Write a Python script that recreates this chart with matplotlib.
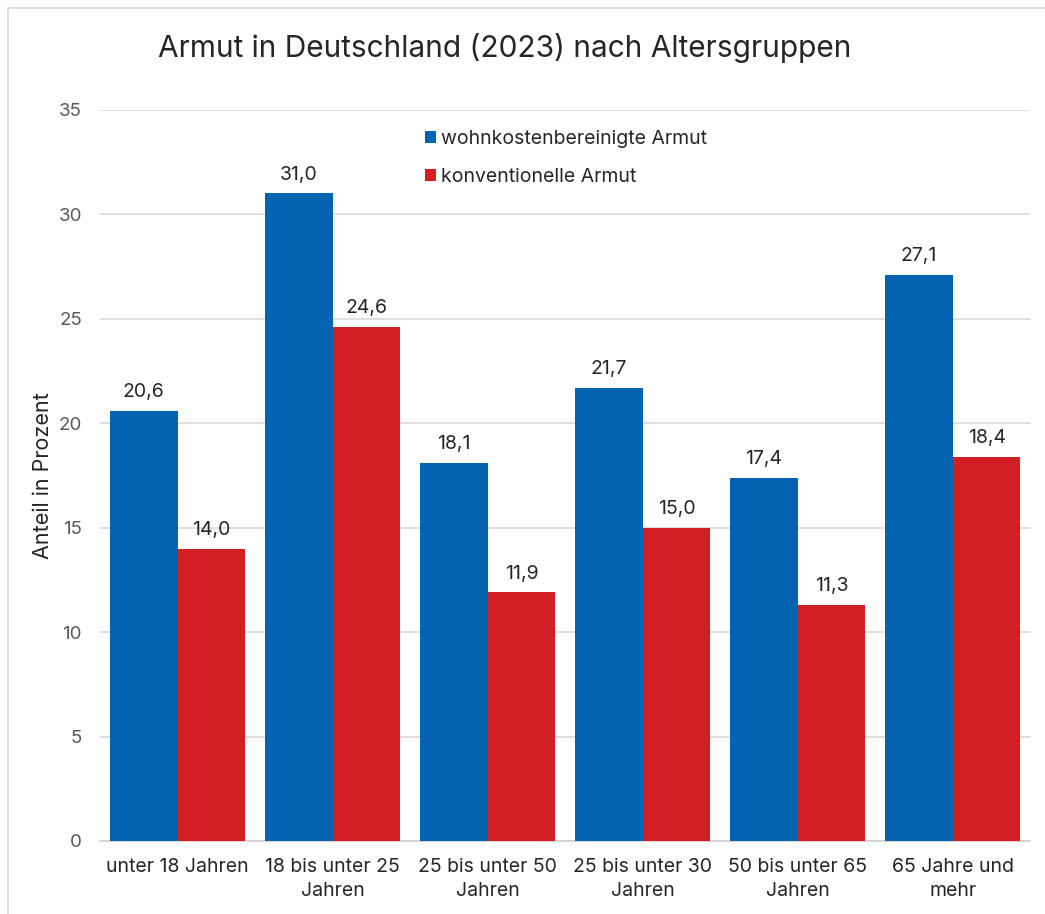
import matplotlib.pyplot as plt
import numpy as np
from matplotlib.patches import Rectangle

plt.rcParams["font.family"] = ["Inter", "DejaVu Sans"]

categories = ["unter 18 Jahren", "18 bis unter 25\nJahren", "25 bis unter 50\nJahren",
              "25 bis unter 30\nJahren", "50 bis unter 65\nJahren", "65 Jahre und\nmehr"]
wohnkosten = [20.6, 31.0, 18.1, 21.7, 17.4, 27.1]
konventionell = [14.0, 24.6, 11.9, 15.0, 11.3, 18.4]
series_names = ["wohnkostenbereinigte Armut", "konventionelle Armut"]
yticks = [0, 5, 10, 15, 20, 25, 30, 35]

BLUE = "#0563b2"
RED = "#d21f26"
TEXT = "#262626"

fig = plt.figure(figsize=(10.45, 9.14), dpi=100)
ax = fig.add_axes([0.0957, 0.0799, 0.8903, 0.7998])

# light frame around the chart
fig.patches.append(Rectangle((0.0077, -0.1), 1.2, 1.0912, transform=fig.transFigure,
                             fill=False, edgecolor="#d9d9d9", linewidth=1.2))

x = np.arange(len(categories))
w = 0.435
b1 = ax.bar(x - w / 2, wohnkosten, w, color=BLUE, label=series_names[0], zorder=3)
b2 = ax.bar(x + w / 2, konventionell, w, color=RED, label=series_names[1], zorder=3)

for bars in (b1, b2):
    for rect in bars:
        h = rect.get_height()
        ax.annotate(f"{h:.1f}".replace(".", ","), (rect.get_x() + rect.get_width() / 2, h),
                    xytext=(0, 7), textcoords="offset points", ha="center", va="bottom",
                    fontsize=14, color=TEXT)

ax.set_xlim(-0.5, len(categories) - 0.5)
ax.set_ylim(0, 35)
ax.set_yticks(yticks)
ax.yaxis.grid(True, color="#d9d9d9", linewidth=1.2, zorder=0)
ax.set_axisbelow(True)
for s in ("top", "right", "left"):
    ax.spines[s].set_visible(False)
ax.spines["bottom"].set_color("#d0d0d0")
ax.spines["bottom"].set_linewidth(1.2)
ax.tick_params(axis="both", length=0)
ax.tick_params(axis="y", labelsize=13.5, labelcolor="#595959", pad=13)
ax.set_xticks(x)
ax.set_xticklabels(categories, fontsize=14, color=TEXT, linespacing=1.45)
ax.tick_params(axis="x", pad=12)

ax.set_ylabel("Anteil in Prozent", fontsize=15.5, color=TEXT, labelpad=4)

fig.text(0.483, 0.948, "Armut in Deutschland (2023) nach Altersgruppen",
         ha="center", va="center", fontsize=21.5, color=TEXT)

ax.legend(loc="upper left", bbox_to_anchor=(0.33, 0.997), frameon=False, fontsize=14,
          handlelength=0.6, handleheight=0.6, handletextpad=0.25, labelspacing=1.05,
          labelcolor=TEXT)

fig.savefig("out.png", dpi=100)
